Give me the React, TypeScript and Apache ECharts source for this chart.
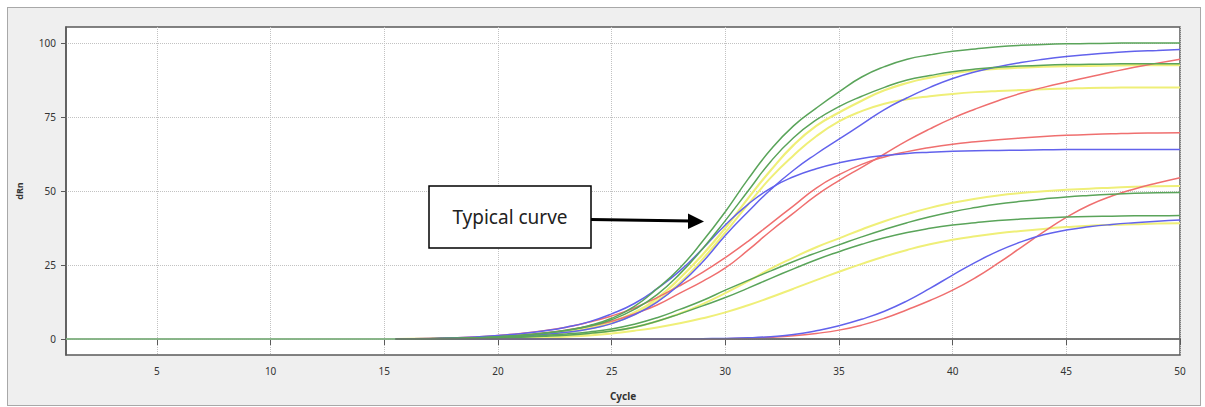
import React, { useEffect, useRef } from "react";
import * as echarts from "echarts";

const cycles = [15.5, 17, 19, 20, 21, 22, 23, 24, 25, 26, 27, 28, 29, 30, 31, 32, 33, 34, 35, 36, 37, 38, 39, 40, 41, 42, 43, 44, 45, 46, 47, 48, 49, 50];
const xTicks = [5, 10, 15, 20, 25, 30, 35, 40, 45, 50];
const yTicks = [0, 25, 50, 75, 100];

const green1 = [0, 0.1, 0.4, 0.8, 1.3, 2.0, 3.0, 4.5, 7.0, 11, 17, 24, 33, 43, 54, 64, 72, 78, 83.5, 88.5, 92, 94.5, 96, 97.2, 98, 98.7, 99.2, 99.5, 99.7, 99.8, 99.9, 100, 100, 100];
const green2 = [0, 0.1, 0.4, 0.8, 1.2, 1.9, 2.9, 4.3, 6.5, 10, 15, 22, 30.5, 40, 50, 60, 68, 74, 78.5, 82, 85, 87.5, 89, 90.3, 91.2, 91.8, 92.2, 92.5, 92.7, 92.8, 92.9, 93, 93, 93];
const green3 = [0, 0.1, 0.3, 0.5, 0.8, 1.2, 1.7, 2.4, 3.4, 5.0, 7.2, 10, 13, 16.5, 19.8, 23, 26.2, 29.1, 31.8, 34.5, 37, 39.3, 41.3, 43, 44.4, 45.6, 46.5, 47.3, 48, 48.5, 48.9, 49.2, 49.4, 49.5];
const green4 = [0, 0.05, 0.2, 0.4, 0.6, 0.9, 1.3, 1.9, 2.7, 4.0, 6.0, 8.5, 11.2, 14, 17.2, 20.5, 23.7, 26.8, 29.5, 32, 34.2, 36, 37.4, 38.5, 39.3, 40, 40.5, 40.9, 41.2, 41.4, 41.5, 41.6, 41.6, 41.7];
const yellow1 = [0, 0.1, 0.3, 0.6, 1.0, 1.6, 2.5, 3.8, 5.8, 9, 13.8, 20.5, 28.5, 37.5, 47.5, 57, 65.5, 72, 76.5, 80.5, 84, 86.5, 88.3, 89.7, 90.7, 91.3, 91.7, 92, 92.2, 92.3, 92.4, 92.5, 92.5, 92.5];
const yellow2 = [0, 0.1, 0.3, 0.6, 1.0, 1.5, 2.3, 3.5, 5.3, 8.3, 12.8, 19, 27, 36, 45.5, 54.5, 62, 68.5, 73.5, 77, 79.5, 81, 82, 82.8, 83.4, 83.8, 84.1, 84.4, 84.6, 84.8, 84.9, 85, 85, 85];
const yellow3 = [0, 0.05, 0.2, 0.4, 0.6, 0.9, 1.3, 1.9, 2.7, 4.0, 6.0, 8.6, 11.8, 15.5, 19.5, 23.8, 27.5, 31, 34, 37, 39.8, 42.2, 44.3, 46, 47.4, 48.5, 49.3, 49.9, 50.4, 50.8, 51.1, 51.4, 51.6, 51.7];
const yellow4 = [0, 0.02, 0.1, 0.2, 0.3, 0.5, 0.8, 1.2, 1.9, 2.8, 3.9, 5.3, 7.0, 9.0, 11.4, 14.1, 17.0, 19.9, 22.7, 25.4, 27.9, 30.1, 32, 33.5, 34.7, 35.7, 36.5, 37.2, 37.8, 38.3, 38.6, 38.8, 39, 39.1];
const blue1 = [0, 0.1, 0.3, 0.6, 1.0, 1.5, 2.3, 3.4, 5.2, 8.2, 12.5, 18.5, 26, 35, 43, 50.5, 57, 62.5, 67.5, 72.5, 77.5, 81.5, 85, 88, 90.3, 92, 93.4, 94.5, 95.4, 96.1, 96.7, 97.2, 97.5, 97.8];
const blue2 = [0, 0.2, 0.7, 1.2, 1.8, 2.7, 4.0, 5.8, 8.5, 12, 17, 23, 30.5, 38.5, 45.5, 51, 54.8, 57.5, 59.5, 61, 62, 62.7, 63.1, 63.4, 63.6, 63.7, 63.8, 63.9, 64, 64, 64, 64, 64, 64];
const blue3 = [0, 0, 0, 0, 0, 0, 0, 0, 0, 0, 0, 0, 0.1, 0.2, 0.4, 0.8, 1.5, 2.8, 4.5, 6.7, 9.4, 12.9, 17.1, 21.6, 25.9, 29.7, 32.8, 35.2, 36.8, 37.9, 38.7, 39.3, 39.8, 40.2];
const red1 = [0, 0.1, 0.4, 0.8, 1.3, 2.0, 3.0, 4.3, 6.0, 8.5, 11.5, 15.5, 19.5, 24, 30, 36.5, 42.5, 48.5, 53.5, 58, 62.5, 67, 71, 74.6, 77.7, 80.5, 83, 85, 86.8, 88.5, 90.2, 91.8, 93.2, 94.5];
const red2 = [0, 0.2, 0.7, 1.2, 1.9, 2.8, 4.0, 5.7, 7.8, 10.5, 14, 18, 22.5, 27.5, 33, 39, 45, 51, 55.5, 59, 61.5, 63.3, 64.7, 65.8, 66.6, 67.3, 67.9, 68.4, 68.8, 69.1, 69.3, 69.5, 69.6, 69.7];
const red3 = [0, 0, 0, 0, 0, 0, 0, 0, 0, 0, 0, 0, 0, 0.1, 0.3, 0.6, 1.1, 1.9, 3, 4.7, 7, 9.9, 13, 16.5, 20.7, 25.6, 30.9, 36.2, 41.1, 45.2, 48.3, 50.7, 52.7, 54.5];

const baselineX = [1, 15.5];
const baselineY = [0, 0];
const zeroLineX = [15.5, 50];
const zeroLineY = [0, 0];

const GREEN = "#5aa45a";
const YELLOW = "#efef78";
const BLUE = "#6262ec";
const RED = "#ef6f6f";

const curves = [
  { name: "Y4", color: YELLOW, values: yellow4, width: 2 },
  { name: "Y3", color: YELLOW, values: yellow3, width: 2 },
  { name: "Y2", color: YELLOW, values: yellow2, width: 2 },
  { name: "Y1", color: YELLOW, values: yellow1, width: 2.2 },
  { name: "R3", color: RED, values: red3, width: 1.5 },
  { name: "R2", color: RED, values: red2, width: 1.5 },
  { name: "R1", color: RED, values: red1, width: 1.5 },
  { name: "B3", color: BLUE, values: blue3, width: 1.5 },
  { name: "B2", color: BLUE, values: blue2, width: 1.5 },
  { name: "B1", color: BLUE, values: blue1, width: 1.5 },
  { name: "G4", color: GREEN, values: green4, width: 1.5 },
  { name: "G3", color: GREEN, values: green3, width: 1.5 },
  { name: "G2", color: GREEN, values: green2, width: 1.5 },
  { name: "G1", color: GREEN, values: green1, width: 1.5 },
];

const FONT = "Noto Sans";

export default function App() {
  const ref = useRef<HTMLDivElement>(null);

  useEffect(() => {
    if (!ref.current) return;
    const chart = echarts.init(ref.current, undefined, { renderer: "svg" });

    const series: any[] = [
      {
        type: "line",
        name: "baseline",
        data: baselineX.map((x, i) => [x, baselineY[i]]),
        symbol: "none",
        lineStyle: { color: "#8cc78c", width: 1.5 },
        silent: true,
        z: 1,
      },
      ...curves.map((c) => ({
        type: "line",
        name: c.name,
        data: cycles.map((x, i) => [x, c.values[i]]),
        symbol: "none",
        smooth: 0.5,
        lineStyle: { color: c.color, width: c.width },
        silent: true,
      })),
      {
        type: "line",
        name: "zero",
        data: zeroLineX.map((x, i) => [x, zeroLineY[i]]),
        symbol: "none",
        lineStyle: { color: "#707070", width: 1.5 },
        silent: true,
        z: 3,
      },
    ];

    chart.setOption({
      animation: false,
      grid: {
        left: 66,
        right: 25,
        top: 27,
        bottom: 52,
        show: true,
        backgroundColor: "#ffffff",
        borderColor: "#5a5a5a",
        borderWidth: 1.5,
        outerBoundsMode: "none",
      },
      xAxis: {
        type: "value",
        min: 1,
        max: 50,
        name: "Cycle",
        nameLocation: "middle",
        nameGap: 36,
        nameTextStyle: { fontWeight: "bold", fontSize: 10, color: "#333", fontFamily: FONT },
        axisLine: { show: true, lineStyle: { color: "#5a5a5a", width: 1.5 } },
        axisTick: { show: true, length: 6, customValues: xTicks, lineStyle: { color: "#5a5a5a" } },
        axisLabel: { customValues: xTicks, margin: 11, fontSize: 10, color: "#333", fontFamily: FONT },
        splitLine: { show: true, lineStyle: { type: "dotted", color: "#c2c2c2", width: 1 } },
      },
      yAxis: {
        type: "value",
        min: -5.4,
        max: 105.4,
        name: "dRn",
        nameLocation: "middle",
        nameGap: 42,
        nameTextStyle: { fontWeight: "bold", fontSize: 9, color: "#333", fontFamily: FONT },
        axisLine: { show: true, lineStyle: { color: "#5a5a5a", width: 1.5 } },
        axisTick: { show: true, length: 5, customValues: yTicks, lineStyle: { color: "#5a5a5a" } },
        axisLabel: { customValues: yTicks, margin: 10, fontSize: 10, color: "#333", fontFamily: FONT },
        splitLine: { show: true, lineStyle: { type: "dotted", color: "#c2c2c2", width: 1 } },
      },
      series,
      graphic: {
        elements: [
          {
            type: "rect",
            z: 100,
            shape: { x: 429, y: 186, width: 162, height: 62 },
            style: { fill: "#ffffff", stroke: "#000000", lineWidth: 1.5 },
          },
          {
            type: "text",
            z: 101,
            style: {
              text: "Typical curve",
              x: 510,
              y: 217,
              textAlign: "center",
              textVerticalAlign: "middle",
              font: `19px "${FONT}"`,
              fill: "#222222",
            },
          },
          {
            type: "line",
            z: 100,
            shape: { x1: 591, y1: 219.5, x2: 691, y2: 221 },
            style: { stroke: "#000000", lineWidth: 3 },
          },
          {
            type: "polygon",
            z: 100,
            shape: { points: [[688, 213.5], [704, 221.5], [688, 229]] },
            style: { fill: "#000000" },
          },
        ],
      },
    });

    return () => chart.dispose();
  }, []);

  return (
    <div style={{ position: "absolute", left: 0, top: 0, width: 1205, height: 407, background: "#ffffff" }}>
      <div
        style={{
          position: "absolute",
          left: 7,
          top: 7,
          width: 1194,
          height: 399,
          boxSizing: "border-box",
          border: "1px solid #a8a8a8",
          background: "#efefef",
        }}
      />
      <div ref={ref} style={{ position: "absolute", left: 0, top: 0, width: 1205, height: 407 }} />
    </div>
  );
}
